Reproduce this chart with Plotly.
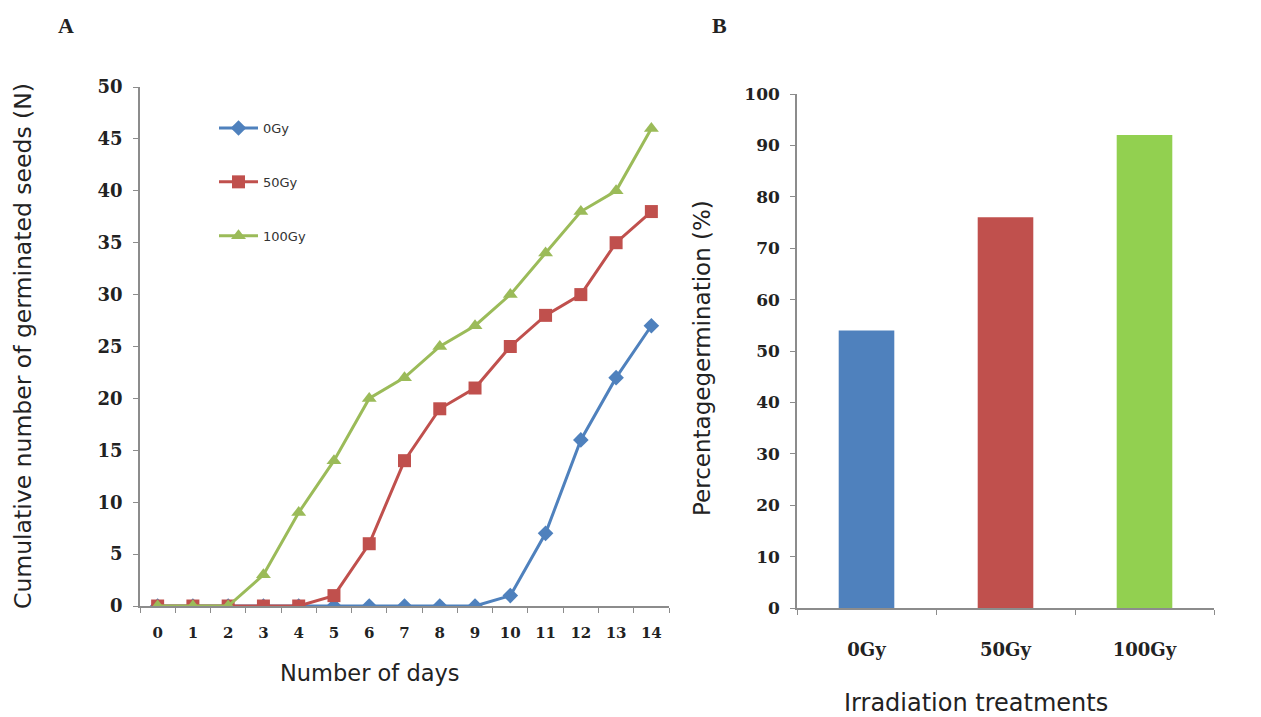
import plotly.graph_objects as go

days = [str(d) for d in range(15)]
gy0 = [0, 0, 0, 0, 0, 0, 0, 0, 0, 0, 1, 7, 16, 22, 27]
gy50 = [0, 0, 0, 0, 0, 1, 6, 14, 19, 21, 25, 28, 30, 35, 38]
gy100 = [0, 0, 0, 3, 9, 14, 20, 22, 25, 27, 30, 34, 38, 40, 46]
series_names = ["0Gy", "50Gy", "100Gy"]
line_colors = ["#4F81BD", "#C0504D", "#9BBB59"]
bar_colors = ["#4F81BD", "#C0504D", "#92D050"]
symbols = ["diamond", "square", "triangle-up"]
treatments = ["0Gy", "50Gy", "100Gy"]
pct_germ = [54, 76, 92]

W, H = 1261, 717
OFF = 8  # page body margin compensation
def px(x):
    return (x - OFF) / W
def py(y):
    return (H - (y - OFF)) / H

fig = go.Figure()
sizes = [12, 13, 13]
for name, ys, c, s, sz in zip(series_names, [gy0, gy50, gy100], line_colors, symbols, sizes):
    fig.add_trace(go.Scatter(
        x=days, y=ys, name=name, mode="lines+markers",
        line=dict(color=c, width=3), marker=dict(symbol=s, size=sz, color=c),
        xaxis="x", yaxis="y", legendgroup=name))

fig.add_trace(go.Bar(
    x=treatments, y=pct_germ, marker=dict(color=bar_colors, line=dict(width=0)),
    xaxis="x2", yaxis="y2", showlegend=False, width=0.4))

def tf(size):
    return dict(family="DejaVu Serif", size=size, color="#222", weight="bold")

axis_line = dict(showline=True, linecolor="#8c8c8c", linewidth=1.5, showgrid=False, zeroline=False,
                 ticks="outside", tickcolor="#8c8c8c", ticklen=5, automargin=False)

def title_font(size):
    return dict(family="DejaVu Sans", size=size, color="#222")

fig.update_layout(
    width=W, height=H, plot_bgcolor="white", paper_bgcolor="white",
    margin=dict(l=0, r=0, t=0, b=0, autoexpand=False),
    xaxis=dict(domain=[px(140), px(669)], anchor="y", type="category", range=[-0.5, 14.5],
               tickson="boundaries", tickfont=tf(15), ticklabelstandoff=12, **axis_line),
    yaxis=dict(domain=[py(606), py(87)], anchor="x", range=[0, 50], dtick=5,
               tickfont=tf(18), ticklabelstandoff=7, **axis_line),
    xaxis2=dict(domain=[px(797), px(1214)], anchor="y2", type="category", range=[-0.5, 2.5],
                tickson="boundaries", tickfont=tf(18), ticklabelstandoff=25, **axis_line),
    yaxis2=dict(domain=[py(608), py(94)], anchor="x2", range=[0, 100], dtick=10,
                tickfont=tf(17), ticklabelstandoff=7, **axis_line),
    legend=dict(x=px(214), y=py(113), xanchor="left", yanchor="top", tracegroupgap=34,
                itemwidth=39,
                font=dict(family="DejaVu Sans", size=13, color="#333"), bgcolor="rgba(0,0,0,0)"),
    annotations=[
        dict(text="<b>A</b>", x=px(66), y=py(25), xref="paper", yref="paper", showarrow=False,
             xanchor="center", yanchor="middle",
             font=dict(family="Liberation Serif", size=22, color="#222")),
        dict(text="<b>B</b>", x=px(719), y=py(25), xref="paper", yref="paper", showarrow=False,
             xanchor="center", yanchor="middle",
             font=dict(family="Liberation Serif", size=22, color="#222")),
        dict(text="Cumulative number of germinated seeds (N)", x=px(23), y=py(346), xref="paper", yref="paper",
             xanchor="center", yanchor="middle",
             showarrow=False, textangle=-90, font=title_font(23.5)),
        dict(text="Number of days", x=px(369), y=py(673), xref="paper", yref="paper",
             xanchor="center", yanchor="middle",
             showarrow=False, font=title_font(22.5)),
        dict(text="Percentagegermination (%)", x=px(702), y=py(358), xref="paper", yref="paper",
             xanchor="center", yanchor="middle",
             showarrow=False, textangle=-90, font=title_font(23)),
        dict(text="Irradiation treatments", x=px(976), y=py(703), xref="paper", yref="paper",
             xanchor="center", yanchor="middle",
             showarrow=False, font=title_font(24)),
    ],
)

fig.write_html("out.html")
